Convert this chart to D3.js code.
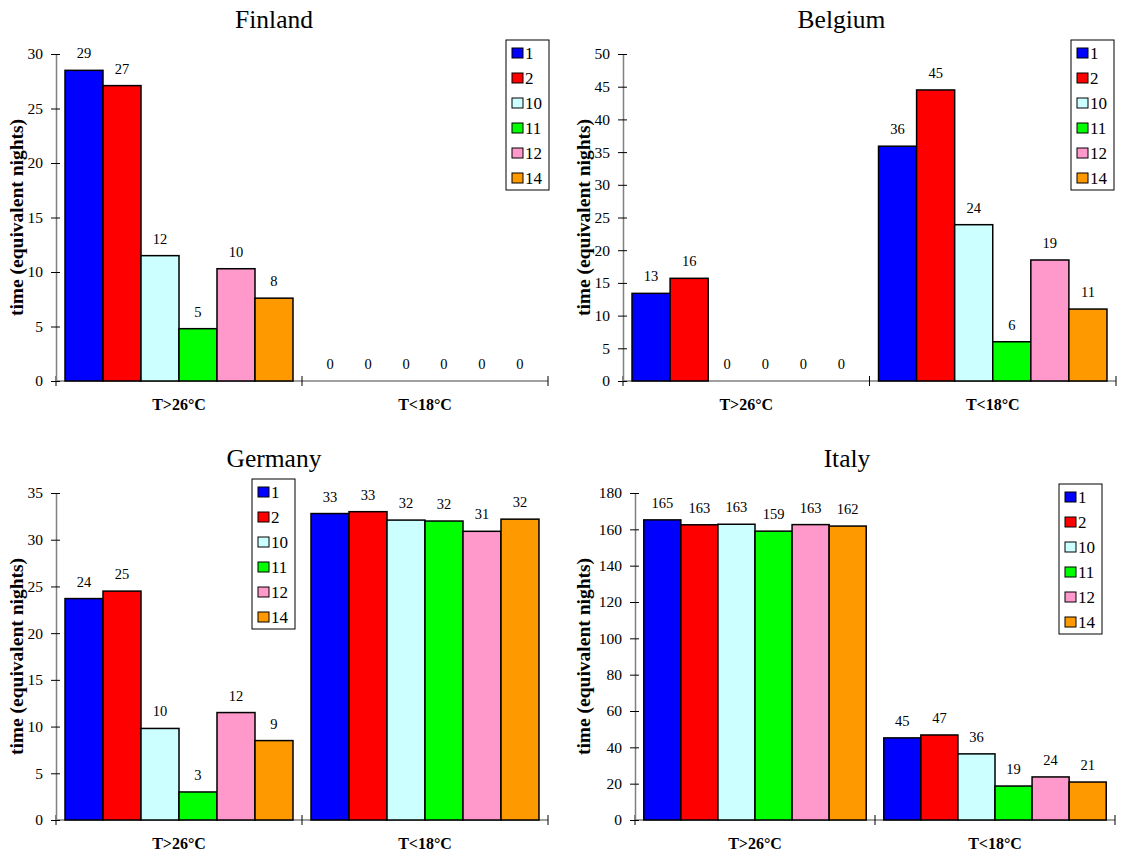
<!DOCTYPE html>
<html>
<head>
<meta charset="utf-8">
<script src="https://cdn.jsdelivr.net/npm/d3@7"></script>
<style>
  html, body { margin: 0; padding: 0; background: #fff; }
  svg { display: block; }
  text { font-family: "Liberation Serif", "Times New Roman", serif; fill: #000; }
</style>
</head>
<body>
<script>
// ---------- DATA ----------
const categories = ["T>26°C", "T<18°C"];
const seriesNames = ["1", "2", "10", "11", "12", "14"];

// values per category, in series order 1,2,10,11,12,14
const finlandHot  = [28.5, 27.1, 11.5, 4.8, 10.3, 7.6];
const finlandCold = [0, 0, 0, 0, 0, 0];
const belgiumHot  = [13.4, 15.7, 0, 0, 0, 0];
const belgiumCold = [35.9, 44.5, 23.9, 6.0, 18.5, 11.0];
const germanyHot  = [23.7, 24.5, 9.8, 3.0, 11.5, 8.5];
const germanyCold = [32.8, 33.0, 32.1, 32.0, 30.9, 32.2];
const italyHot    = [165.2, 162.5, 162.8, 159.0, 162.6, 161.8];
const italyCold   = [45.2, 46.8, 36.4, 18.7, 23.7, 20.9];

const finlandTicks = [0, 5, 10, 15, 20, 25, 30];
const belgiumTicks = [0, 5, 10, 15, 20, 25, 30, 35, 40, 45, 50];
const germanyTicks = [0, 5, 10, 15, 20, 25, 30, 35];
const italyTicks   = [0, 20, 40, 60, 80, 100, 120, 140, 160, 180];

const yLabel = "time (equivalent nights)";

// ---------- STYLE ----------
const seriesColors = ["#0000FF", "#FF0000", "#CCFFFF", "#00FF00", "#FF99CC", "#FF9900"];
const serif = "'Liberation Serif', 'Times New Roman', serif";

const panels = [
  { title: "Finland", hot: finlandHot, cold: finlandCold, ticks: finlandTicks,
    left: 56, right: 548, top: 54, bottom: 381, labelX: 16, legend: { x: 506, y: 40 } },
  { title: "Belgium", hot: belgiumHot, cold: belgiumCold, ticks: belgiumTicks,
    left: 623, right: 1116, top: 54, bottom: 381, labelX: 583, legend: { x: 1071, y: 40 } },
  { title: "Germany", hot: germanyHot, cold: germanyCold, ticks: germanyTicks,
    left: 56, right: 548, top: 493, bottom: 820, labelX: 16, legend: { x: 252, y: 479 } },
  { title: "Italy", hot: italyHot, cold: italyCold, ticks: italyTicks,
    left: 635, right: 1115, top: 493, bottom: 820, labelX: 583, legend: { x: 1059, y: 484 } }
];

const svg = d3.select("body").append("svg")
  .attr("width", 1123).attr("height", 852);

function drawPanel(p) {
  const g = svg.append("g");
  const table = categories.map((c, i) => ({ cat: c, vals: (i === 0 ? p.hot : p.cold) }));

  const y = d3.scaleLinear().domain([0, d3.max(p.ticks)]).range([p.bottom, p.top]);
  const x0 = d3.scaleBand().domain(categories).range([p.left, p.right]).padding(0);
  const x1 = d3.scaleBand().domain(seriesNames).range([0, x0.bandwidth()])
    .paddingInner(0).paddingOuter(0.237);

  // title
  g.append("text")
    .attr("x", (p.left + p.right) / 2 - 28)
    .attr("y", p.top - 26)
    .attr("text-anchor", "middle")
    .style("font-family", serif)
    .style("font-size", "25.5px")
    .text(p.title);

  // x baseline
  g.append("line")
    .attr("x1", p.left).attr("x2", p.right)
    .attr("y1", y(0)).attr("y2", y(0))
    .attr("stroke", "#808080").attr("stroke-width", 1.5);

  // x ticks at category boundaries
  const bounds = [p.left].concat(categories.map(c => x0(c) + x0.bandwidth()));
  g.selectAll(".xt").data(bounds).enter().append("line")
    .attr("x1", d => d).attr("x2", d => d)
    .attr("y1", y(0) - 5).attr("y2", y(0) + 5)
    .attr("stroke", "#000").attr("stroke-width", 1);

  // category labels
  g.selectAll(".cl").data(categories).enter().append("text")
    .attr("x", d => x0(d) + x0.bandwidth() / 2)
    .attr("y", y(0) + 29)
    .attr("text-anchor", "middle")
    .style("font-family", serif)
    .style("font-size", "16px").style("font-weight", "bold")
    .text(d => d);

  // y axis
  const ax = g.append("g")
    .attr("transform", `translate(${p.left},0)`)
    .call(d3.axisLeft(y).tickValues(p.ticks).tickSizeInner(5).tickSizeOuter(0).tickPadding(8));
  ax.attr("font-family", null).attr("font-size", null);
  ax.select(".domain").attr("stroke", "#808080").attr("stroke-width", 1.5);
  ax.selectAll(".tick line").attr("x1", 4).attr("stroke", "#000");
  ax.selectAll(".tick text")
    .style("font-family", serif)
    .style("font-size", "15.5px").attr("fill", "#000");

  // y label
  g.append("text")
    .attr("transform", `translate(${p.labelX},${(p.top + p.bottom) / 2}) rotate(-90)`)
    .attr("text-anchor", "middle")
    .attr("dominant-baseline", "central")
    .style("font-family", serif)
    .style("font-size", "19.5px").style("font-weight", "bold")
    .text(yLabel);

  // bars
  const grp = g.selectAll(".cat").data(table).enter().append("g")
    .attr("transform", d => `translate(${x0(d.cat)},0)`);

  grp.selectAll("rect")
    .data(d => d.vals.map((v, i) => ({ v, s: seriesNames[i], i })))
    .enter().append("rect")
    .filter(d => d.v > 0)
    .attr("x", d => x1(d.s))
    .attr("width", x1.bandwidth())
    .attr("y", d => y(d.v))
    .attr("height", d => y(0) - y(d.v))
    .attr("fill", d => seriesColors[d.i])
    .attr("stroke", "#000").attr("stroke-width", 1.5);

  grp.selectAll(".vl")
    .data(d => d.vals.map((v, i) => ({ v, s: seriesNames[i] })))
    .enter().append("text")
    .attr("x", d => x1(d.s) + x1.bandwidth() / 2)
    .attr("y", d => y(d.v) - 12)
    .attr("text-anchor", "middle")
    .style("font-family", serif)
    .style("font-size", "14.5px")
    .text(d => Math.round(d.v));

  // legend
  const lg = g.append("g").attr("transform", `translate(${p.legend.x},${p.legend.y})`);
  lg.append("rect").attr("width", 43).attr("height", 150)
    .attr("fill", "#fff").attr("stroke", "#000").attr("stroke-width", 1);
  const items = lg.selectAll(".li").data(seriesNames).enter().append("g")
    .attr("transform", (d, i) => `translate(0,${13 + i * 25})`);
  items.append("rect")
    .attr("x", 6).attr("y", -5).attr("width", 11).attr("height", 10)
    .attr("fill", (d, i) => seriesColors[i])
    .attr("stroke", "#000").attr("stroke-width", 1);
  items.append("text")
    .attr("x", 19).attr("y", 0)
    .attr("dominant-baseline", "central")
    .style("font-family", serif)
    .style("font-size", "17px")
    .text(d => d);
}

panels.forEach(drawPanel);
</script>
</body>
</html>
